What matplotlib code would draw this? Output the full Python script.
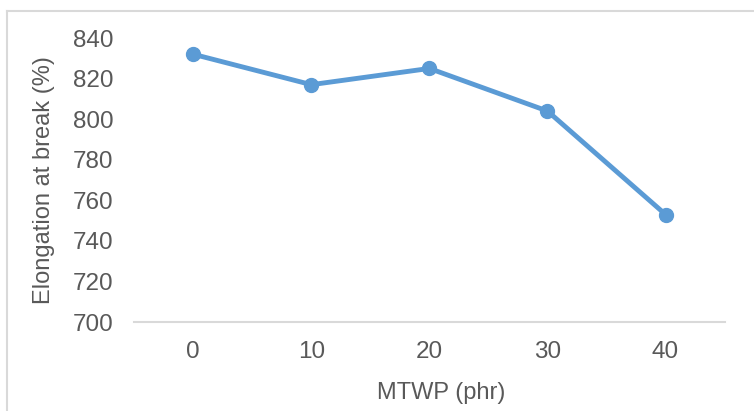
import numpy as np
import matplotlib.pyplot as plt
from matplotlib.lines import Line2D

mtwp = ['0', '10', '20', '30', '40']
elongation = [832, 817, 825, 804, 753]
yticks = [700, 720, 740, 760, 780, 800, 820, 840]

plt.rcParams['font.family'] = ['Liberation Sans', 'DejaVu Sans']

fig = plt.figure(figsize=(7.54, 4.11), dpi=100)
ax = fig.add_axes([0.178, 0.2165, 0.783, 0.691])

x = np.arange(len(mtwp))
ax.plot(x, elongation, color='#5b9bd5', linewidth=3.5, marker='o',
        markersize=10, solid_capstyle='round', clip_on=False)

ax.set_xlim(-0.5, len(mtwp) - 0.5)
ax.set_ylim(700, 840)
ax.set_xticks(x)
ax.set_xticklabels(mtwp)
ax.set_yticks(yticks)

for s in ['top', 'right', 'left']:
    ax.spines[s].set_visible(False)
ax.spines['bottom'].set_color('#d9d9d9')
ax.spines['bottom'].set_linewidth(1.5)

ax.tick_params(axis='both', length=0, labelsize=17.5, labelcolor='#595959')
ax.tick_params(axis='y', pad=15)
ax.tick_params(axis='x', pad=14)

ax.set_xlabel('MTWP (phr)', fontsize=17, color='#595959', labelpad=13)
ax.set_ylabel('Elongation at break (%)', fontsize=17, color='#595959', labelpad=13)
ax.xaxis.label.set_x(0.52)

# chart area border (only top and left visible in the crop)
fig.add_artist(Line2D([0.0093, 1.0], [0.973, 0.973], color='#d9d9d9', linewidth=1.5))
fig.add_artist(Line2D([0.0093, 0.0093], [0.0, 0.973], color='#d9d9d9', linewidth=1.5))

fig.savefig('out.png', dpi=100)
